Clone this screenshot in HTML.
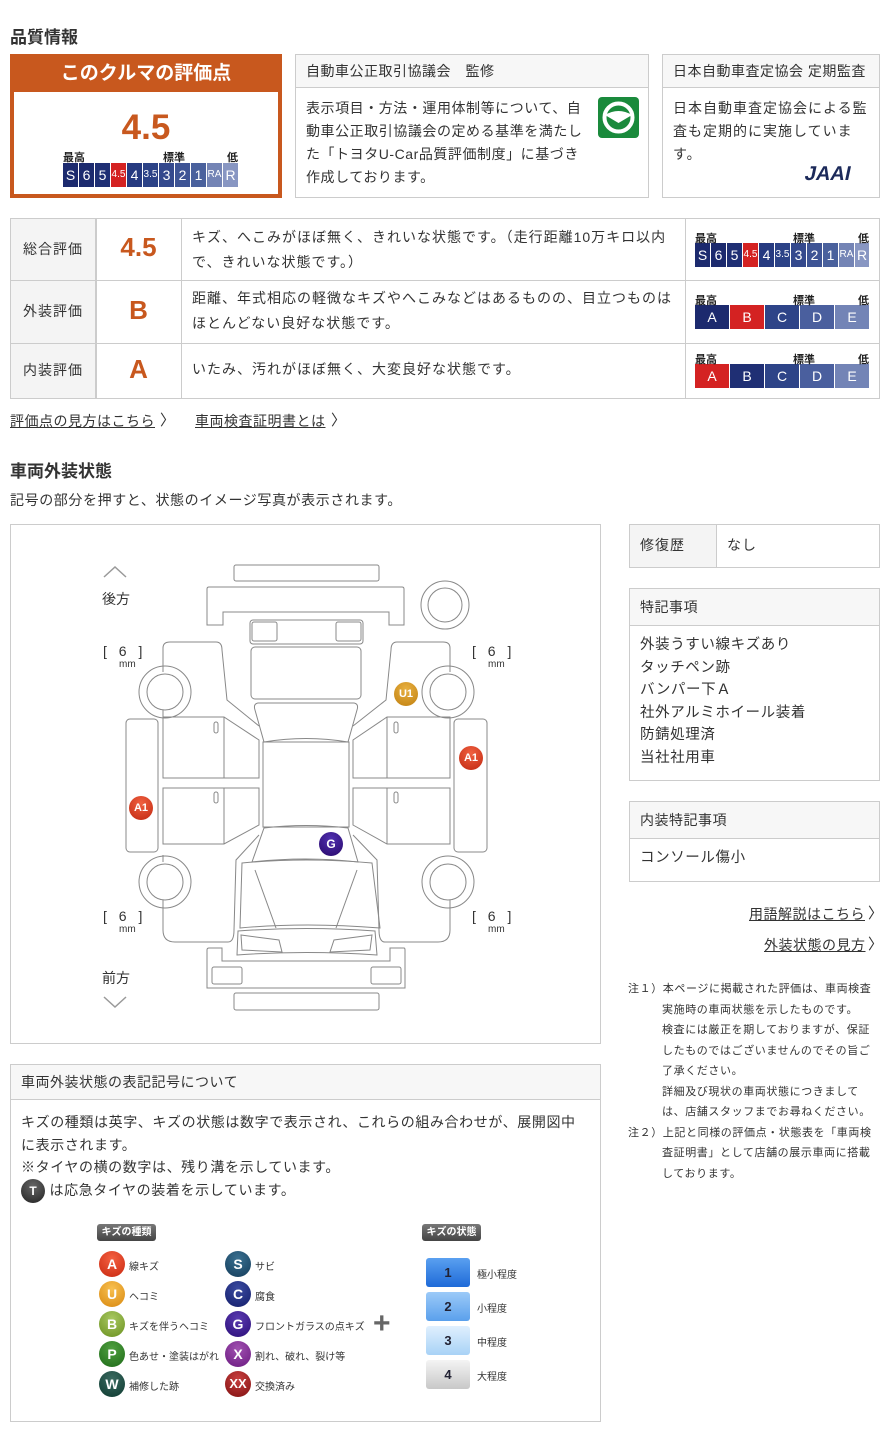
<!DOCTYPE html>
<html><head><meta charset="utf-8">
<style>
*{box-sizing:border-box;margin:0;padding:0}
body{width:890px;height:1440px;background:#fff;font-family:"Liberation Sans","Noto Sans CJK JP",sans-serif;color:#333;position:relative;overflow:hidden}
.a{position:absolute}
h2{position:absolute;font-size:17px;font-weight:bold;color:#333}
.box{position:absolute;border:1px solid #ccc;background:#fff}
.hd{background:#f7f7f7;border-bottom:1px solid #ccc;font-size:14px;padding-left:10px;display:flex;align-items:center;letter-spacing:0.5px}
.sc{display:flex;gap:1px}
.sc div{color:#fff;text-align:center;font-size:14px;height:24px;line-height:24px}
.lbl{font-size:11px;font-weight:bold;color:#222;position:relative;height:13px}
.t{font-size:14px;line-height:23px;color:#333;letter-spacing:1px}
a{color:#333}
.lnk{position:absolute;font-size:14px;color:#333;text-decoration:underline;letter-spacing:0.5px}
.dot{position:absolute;border-radius:50%;color:#fff;font-weight:bold;text-align:center;font-family:"Liberation Sans Narrow","Liberation Sans",sans-serif}
</style></head><body>

<h2 style="left:10px;top:23px">品質情報</h2>

<div class="a" style="left:10px;top:54px;width:272px;height:144px;background:#c8581e"></div>
<div class="a" style="left:10px;top:56px;width:272px;height:36px;color:#fff;font-size:19px;font-weight:bold;text-align:center;line-height:36px">このクルマの評価点</div>
<div class="a" style="left:14px;top:92px;width:264px;height:102px;background:#fff"></div>
<div class="a" style="left:10px;top:108px;width:272px;text-align:center;color:#c8581e;font-size:35px;font-weight:bold">4.5</div>
<div class="a" style="left:63px;top:149px;width:175px">
 <div class="lbl"><span style="position:absolute;left:0">最高</span><span style="position:absolute;left:100px">標準</span><span style="position:absolute;right:0">低</span></div>
 <div class="sc" style="margin-top:1px">
 <div style="width:15px;background:#1c2a6e">S</div><div style="width:15px;background:#1c2a6e">6</div><div style="width:15px;background:#1f2f74">5</div><div style="width:15px;background:#d42222;font-size:10px">4.5</div><div style="width:15px;background:#263a80">4</div><div style="width:15px;background:#2c4287;font-size:10px">3.5</div><div style="width:15px;background:#34498d">3</div><div style="width:15px;background:#3e5495">2</div><div style="width:15px;background:#4a619d">1</div><div style="width:15px;background:#7484b5;font-size:10px">RA</div><div style="width:15px;background:#8896c2">R</div>
 </div>
</div>

<div class="box" style="left:295px;top:54px;width:354px;height:144px">
 <div class="hd" style="height:33px">自動車公正取引協議会　監修</div>
 <div class="t" style="position:absolute;left:10px;top:42px;width:284px;letter-spacing:0.55px">表示項目・方法・運用体制等について、自動車公正取引協議会の定める基準を満たした「トヨタU-Car品質評価制度」に基づき作成しております。</div>
 <svg class="a" style="left:302px;top:42px" width="41" height="41"><rect width="41" height="41" rx="4" fill="#1a8a3c"/><circle cx="20.5" cy="20.5" r="14" fill="none" stroke="#fff" stroke-width="4"/><path d="M7 18 Q20.5 10 34 18 L20.5 26 Z" fill="#fff"/></svg>
</div>
<div class="box" style="left:662px;top:54px;width:218px;height:144px">
 <div class="hd" style="height:33px">日本自動車査定協会 定期監査</div>
 <div class="t" style="position:absolute;left:10px;top:42px;width:196px">日本自動車査定協会による監査も定期的に実施しています。</div>
 <div class="a" style="left:142px;top:108px;font-size:20px;font-weight:900;color:#1c2a5a;transform:skewX(-12deg)">JAAI</div>
</div>

<div class="a" style="left:10px;top:218px;width:870px;height:181px;border:1px solid #ccc"></div>
<div class="a" style="left:10px;top:218px;width:86px;height:181px;background:#f4f4f4;border:1px solid #ccc"></div>
<div class="a" style="left:96px;top:218px;width:1px;height:181px;background:#ccc"></div>
<div class="a" style="left:181px;top:218px;width:1px;height:181px;background:#ccc"></div>
<div class="a" style="left:685px;top:218px;width:1px;height:181px;background:#ccc"></div>
<div class="a" style="left:10px;top:280px;width:870px;height:1px;background:#ccc"></div>
<div class="a" style="left:10px;top:343px;width:870px;height:1px;background:#ccc"></div>

<div class="a t" style="left:10px;top:238px;width:86px;text-align:center">総合評価</div>
<div class="a t" style="left:10px;top:300px;width:86px;text-align:center">外装評価</div>
<div class="a t" style="left:10px;top:359px;width:86px;text-align:center">内装評価</div>
<div class="a" style="left:96px;top:232px;width:85px;text-align:center;font-size:26px;font-weight:bold;color:#c8581e">4.5</div>
<div class="a" style="left:96px;top:295px;width:85px;text-align:center;font-size:26px;font-weight:bold;color:#c8581e">B</div>
<div class="a" style="left:96px;top:354px;width:85px;text-align:center;font-size:26px;font-weight:bold;color:#c8581e">A</div>
<div class="a t" style="left:192px;top:225px;width:480px;line-height:25px">キズ、へこみがほぼ無く、きれいな状態です。（走行距離10万キロ以内で、きれいな状態です。）</div>
<div class="a t" style="left:192px;top:286px;width:480px;line-height:25px">距離、年式相応の軽微なキズやへこみなどはあるものの、目立つものはほとんどない良好な状態です。</div>
<div class="a t" style="left:192px;top:358px;width:480px">いたみ、汚れがほぼ無く、大変良好な状態です。</div>

<div class="a" style="left:695px;top:230px;width:174px">
 <div class="lbl"><span style="position:absolute;left:0">最高</span><span style="position:absolute;left:98px">標準</span><span style="position:absolute;right:0">低</span></div>
 <div class="sc">
 <div style="width:15px;background:#1c2a6e">S</div><div style="width:15px;background:#1c2a6e">6</div><div style="width:15px;background:#1f2f74">5</div><div style="width:15px;background:#d42222;font-size:10px">4.5</div><div style="width:15px;background:#263a80">4</div><div style="width:15px;background:#2c4287;font-size:10px">3.5</div><div style="width:15px;background:#34498d">3</div><div style="width:15px;background:#3e5495">2</div><div style="width:15px;background:#4a619d">1</div><div style="width:15px;background:#7484b5;font-size:10px">RA</div><div style="width:14px;background:#8896c2">R</div>
 </div>
</div>
<div class="a" style="left:695px;top:292px;width:174px">
 <div class="lbl"><span style="position:absolute;left:0">最高</span><span style="position:absolute;left:98px">標準</span><span style="position:absolute;right:0">低</span></div>
 <div class="sc"><div style="width:34px;background:#1c2a6e">A</div><div style="width:34px;background:#d42222">B</div><div style="width:34px;background:#2e4488">C</div><div style="width:34px;background:#4a5f9e">D</div><div style="width:34px;background:#7384b6">E</div></div>
</div>
<div class="a" style="left:695px;top:351px;width:174px">
 <div class="lbl"><span style="position:absolute;left:0">最高</span><span style="position:absolute;left:98px">標準</span><span style="position:absolute;right:0">低</span></div>
 <div class="sc"><div style="width:34px;background:#d42222">A</div><div style="width:34px;background:#1f2f74">B</div><div style="width:34px;background:#2e4488">C</div><div style="width:34px;background:#4a5f9e">D</div><div style="width:34px;background:#7384b6">E</div></div>
</div>

<div class="lnk" style="left:10px;top:411px">評価点の見方はこちら</div><div class="a" style="left:160px;top:409px;font-size:15px">〉</div>
<div class="lnk" style="left:195px;top:411px">車両検査証明書とは</div><div class="a" style="left:331px;top:409px;font-size:15px">〉</div>

<h2 style="left:10px;top:457px">車両外装状態</h2>
<div class="a" style="left:10px;top:490px;font-size:14px;letter-spacing:0.6px">記号の部分を押すと、状態のイメージ写真が表示されます。</div>

<div class="box" style="left:10px;top:524px;width:591px;height:520px"></div>
<svg class="a" style="left:0;top:0" width="600" height="1040" fill="none" stroke="#888" stroke-width="1">
 <polyline points="104,577 115,567 126,577" stroke="#999" stroke-width="1.5"/>
 <polyline points="104,997 115,1007 126,997" stroke="#999" stroke-width="1.5"/>
 <rect x="234" y="565" width="145" height="16" rx="2"/>
 <path d="M209,587 H402 Q404,587 404,589 V625 H389 V612 H223 V625 H207 V589 Q207,587 209,587Z"/>
 <circle cx="445" cy="605" r="24"/><circle cx="445" cy="605" r="17"/>
 <rect x="250" y="620" width="113" height="24" rx="3"/>
 <rect x="252" y="622" width="25" height="19" rx="2"/><rect x="336" y="622" width="25" height="19" rx="2"/>
 <rect x="251" y="647" width="110" height="52" rx="4"/>
 <path d="M258,703 H354 Q359,704 357,710 L348,742 Q306,735 264,742 L255,710 Q253,704 258,703Z"/>
 <rect x="263" y="742" width="86" height="85"/>
 <path d="M264,828 Q306,823 348,828 L358,862 Q306,856 252,862Z"/>
 <path d="M242,863 Q306,857 372,863 L380,928 Q306,922 240,928Z"/>
 <line x1="255" y1="870" x2="276" y2="928"/><line x1="357" y1="870" x2="336" y2="928"/>
 <path d="M238,931 Q306,926 375,931 L377,955 Q306,950 237,955Z"/>
 <path d="M241,935 L279,940 L282,952 L242,950Z"/><path d="M372,935 L334,940 L330,952 L370,950Z"/>
 <path d="M209,948 H222 V961 H390 V948 H404 Q405,948 405,950 V988 H207 V950 Q207,948 209,948Z"/>
 <rect x="212" y="967" width="30" height="17" rx="2"/><rect x="371" y="967" width="30" height="17" rx="2"/>
 <rect x="234" y="993" width="145" height="17" rx="2"/>
 <path d="M163,672 V648 Q163,642 170,642 H216 Q222,642 222,650 L227,700 L259,726"/>
 <path d="M163,710 V717"/>
 <path d="M163,855 V862 M163,900 V930 Q163,942 175,942 H228 Q234,942 234,930 L236,860 L259,835"/>
 <rect x="126" y="719" width="32" height="133" rx="4"/>
 <path d="M163,717 H224 L259,740 V778 H163Z"/><line x1="224" y1="717" x2="224" y2="778"/>
 <path d="M163,788 H259 V825 L224,844 H163Z"/><line x1="224" y1="788" x2="224" y2="844"/>
 <rect x="214" y="722" width="4" height="11" rx="2"/><rect x="214" y="792" width="4" height="11" rx="2"/>
 <circle cx="165" cy="692" r="26"/><circle cx="165" cy="692" r="18"/>
 <circle cx="165" cy="882" r="26"/><circle cx="165" cy="882" r="18"/>
 <path d="M450,672 V648 Q450,642 443,642 H397 Q391,642 391,650 L386,700 L353,726"/>
 <path d="M450,900 V930 Q450,942 438,942 H385 Q379,942 379,930 L377,860 L353,835"/>
 <rect x="454" y="719" width="33" height="133" rx="4"/>
 <path d="M450,717 H387 L353,740 V778 H450Z"/><line x1="387" y1="717" x2="387" y2="778"/>
 <path d="M450,788 H353 V825 L387,844 H450Z"/><line x1="387" y1="788" x2="387" y2="844"/>
 <rect x="394" y="722" width="4" height="11" rx="2"/><rect x="394" y="792" width="4" height="11" rx="2"/>
 <circle cx="448" cy="692" r="26"/><circle cx="448" cy="692" r="18"/>
 <circle cx="448" cy="882" r="26"/><circle cx="448" cy="882" r="18"/>
</svg>
<div class="a" style="left:102px;top:589px;font-size:14px">後方</div>
<div class="a" style="left:102px;top:968px;font-size:14px">前方</div>
<div class="a" style="left:103px;top:643px;font-size:14px;letter-spacing:4px">[ 6 ]</div><div class="a" style="left:119px;top:659px;font-size:10px">mm</div>
<div class="a" style="left:472px;top:643px;font-size:14px;letter-spacing:4px">[ 6 ]</div><div class="a" style="left:488px;top:659px;font-size:10px">mm</div>
<div class="a" style="left:103px;top:908px;font-size:14px;letter-spacing:4px">[ 6 ]</div><div class="a" style="left:119px;top:924px;font-size:10px">mm</div>
<div class="a" style="left:472px;top:908px;font-size:14px;letter-spacing:4px">[ 6 ]</div><div class="a" style="left:488px;top:924px;font-size:10px">mm</div>
<div class="dot" style="left:394px;top:682px;width:24px;height:24px;line-height:24px;font-size:11px;background:radial-gradient(circle at 50% 30%,#e8b040,#c08010)">U1</div>
<div class="dot" style="left:459px;top:746px;width:24px;height:24px;line-height:24px;font-size:11px;background:radial-gradient(circle at 50% 30%,#f06040,#c02810)">A1</div>
<div class="dot" style="left:129px;top:796px;width:24px;height:24px;line-height:24px;font-size:11px;background:radial-gradient(circle at 50% 30%,#f06040,#c02810)">A1</div>
<div class="dot" style="left:319px;top:832px;width:24px;height:24px;line-height:24px;font-size:12px;background:radial-gradient(circle at 50% 30%,#5030b0,#28086a)">G</div>

<div class="box" style="left:629px;top:524px;width:251px;height:44px"></div>
<div class="a" style="left:629px;top:524px;width:88px;height:44px;background:#f4f4f4;border:1px solid #ccc"></div>
<div class="a t" style="left:640px;top:534px">修復歴</div>
<div class="a t" style="left:727px;top:534px">なし</div>

<div class="box" style="left:629px;top:588px;width:251px;height:193px">
 <div class="hd" style="height:37px">特記事項</div>
 <div class="t" style="padding:8px 10px;font-size:14.5px;line-height:22.5px;letter-spacing:0.6px">外装うすい線キズあり<br>タッチペン跡<br>バンパー下Ａ<br>社外アルミホイール装着<br>防錆処理済<br>当社社用車</div>
</div>
<div class="box" style="left:629px;top:801px;width:251px;height:81px">
 <div class="hd" style="height:37px">内装特記事項</div>
 <div class="t" style="padding:8px 10px;font-size:14.5px;letter-spacing:0.6px">コンソール傷小</div>
</div>
<div class="lnk" style="left:749px;top:904px">用語解説はこちら</div><div class="a" style="left:868px;top:902px;font-size:15px">〉</div>
<div class="lnk" style="left:764px;top:935px">外装状態の見方</div><div class="a" style="left:868px;top:933px;font-size:15px">〉</div>

<div class="a" style="left:628px;top:979px;width:250px;font-size:11px;line-height:20.5px;color:#333;letter-spacing:0.6px">
 <div style="padding-left:34px;text-indent:-34px">注１）本ページに掲載された評価は、車両検査実施時の車両状態を示したものです。</div>
 <div style="padding-left:34px">検査には厳正を期しておりますが、保証したものではございませんのでその旨ご了承ください。</div>
 <div style="padding-left:34px">詳細及び現状の車両状態につきましては、店舗スタッフまでお尋ねください。</div>
 <div style="padding-left:34px;text-indent:-34px">注２）上記と同様の評価点・状態表を「車両検査証明書」として店舗の展示車両に搭載しております。</div>
</div>

<div class="box" style="left:10px;top:1064px;width:591px;height:358px">
 <div class="hd" style="height:35px">車両外装状態の表記記号について</div>
 <div class="t" style="position:absolute;left:10px;top:46px;width:565px;line-height:22.5px;letter-spacing:0.6px">キズの種類は英字、キズの状態は数字で表示され、これらの組み合わせが、展開図中に表示されます。<br>※タイヤの横の数字は、残り溝を示しています。<br><span style="display:inline-block;width:24px;height:24px;border-radius:50%;background:radial-gradient(circle at 50% 30%,#666,#222);color:#fff;text-align:center;line-height:24px;font-size:12px;font-weight:bold;vertical-align:middle;letter-spacing:0">T</span> は応急タイヤの装着を示しています。</div>
</div>
<div class="a" style="left:97px;top:1224px;width:59px;height:17px;background:linear-gradient(#777,#444);border-radius:3px;color:#fff;font-size:10px;font-weight:bold;text-align:center;line-height:17px">キズの種類</div>
<div class="a" style="left:422px;top:1224px;width:59px;height:17px;background:linear-gradient(#777,#444);border-radius:3px;color:#fff;font-size:10px;font-weight:bold;text-align:center;line-height:17px">キズの状態</div>

<div class="dot" style="left:99px;top:1251px;width:26px;height:26px;line-height:26px;font-size:14px;background:radial-gradient(circle at 50% 30%,#f46040,#c82810)">A</div><div class="a" style="left:129px;top:1258px;font-size:10px">線キズ</div>
<div class="dot" style="left:99px;top:1281px;width:26px;height:26px;line-height:26px;font-size:14px;background:radial-gradient(circle at 50% 30%,#f8c050,#d88810)">U</div><div class="a" style="left:129px;top:1288px;font-size:10px">ヘコミ</div>
<div class="dot" style="left:99px;top:1311px;width:26px;height:26px;line-height:26px;font-size:14px;background:radial-gradient(circle at 50% 30%,#a8c860,#6a9020)">B</div><div class="a" style="left:129px;top:1318px;font-size:10px">キズを伴うヘコミ</div>
<div class="dot" style="left:99px;top:1341px;width:26px;height:26px;line-height:26px;font-size:14px;background:radial-gradient(circle at 50% 30%,#50a040,#1e6a18)">P</div><div class="a" style="left:129px;top:1348px;font-size:10px">色あせ・塗装はがれ</div>
<div class="dot" style="left:99px;top:1371px;width:26px;height:26px;line-height:26px;font-size:14px;background:radial-gradient(circle at 50% 30%,#3a6a60,#0e3a30)">W</div><div class="a" style="left:129px;top:1378px;font-size:10px">補修した跡</div>

<div class="dot" style="left:225px;top:1251px;width:26px;height:26px;line-height:26px;font-size:14px;background:radial-gradient(circle at 50% 30%,#3a7090,#143c5a)">S</div><div class="a" style="left:255px;top:1258px;font-size:10px">サビ</div>
<div class="dot" style="left:225px;top:1281px;width:26px;height:26px;line-height:26px;font-size:14px;background:radial-gradient(circle at 50% 30%,#3a4aa0,#141e6a)">C</div><div class="a" style="left:255px;top:1288px;font-size:10px">腐食</div>
<div class="dot" style="left:225px;top:1311px;width:26px;height:26px;line-height:26px;font-size:14px;background:radial-gradient(circle at 50% 30%,#5a3ab0,#2a0e78)">G</div><div class="a" style="left:255px;top:1318px;font-size:10px">フロントガラスの点キズ</div>
<div class="dot" style="left:225px;top:1341px;width:26px;height:26px;line-height:26px;font-size:14px;background:radial-gradient(circle at 50% 30%,#a050b0,#6a1a80)">X</div><div class="a" style="left:255px;top:1348px;font-size:10px">割れ、破れ、裂け等</div>
<div class="dot" style="left:225px;top:1371px;width:26px;height:26px;line-height:26px;font-size:13px;background:radial-gradient(circle at 50% 30%,#c84040,#801010)">XX</div><div class="a" style="left:255px;top:1378px;font-size:10px">交換済み</div>

<div class="a" style="left:373px;top:1307px;font-size:30px;color:#666;font-weight:bold">+</div>

<div class="a" style="left:426px;top:1258px;width:44px;height:29px;border-radius:3px;background:linear-gradient(#5aa0f0,#1e6ad8);text-align:center;line-height:29px;font-size:13px;font-weight:bold;color:#223">1</div><div class="a" style="left:477px;top:1266px;font-size:10px">極小程度</div>
<div class="a" style="left:426px;top:1292px;width:44px;height:29px;border-radius:3px;background:linear-gradient(#9ccaf8,#5aa0ec);text-align:center;line-height:29px;font-size:13px;font-weight:bold;color:#223">2</div><div class="a" style="left:477px;top:1300px;font-size:10px">小程度</div>
<div class="a" style="left:426px;top:1326px;width:44px;height:29px;border-radius:3px;background:linear-gradient(#e0f0fe,#a8d2f6);text-align:center;line-height:29px;font-size:13px;font-weight:bold;color:#223">3</div><div class="a" style="left:477px;top:1334px;font-size:10px">中程度</div>
<div class="a" style="left:426px;top:1360px;width:44px;height:29px;border-radius:3px;background:linear-gradient(#f4f4f4,#c8c8c8);text-align:center;line-height:29px;font-size:13px;font-weight:bold;color:#223">4</div><div class="a" style="left:477px;top:1368px;font-size:10px">大程度</div>

</body></html>
